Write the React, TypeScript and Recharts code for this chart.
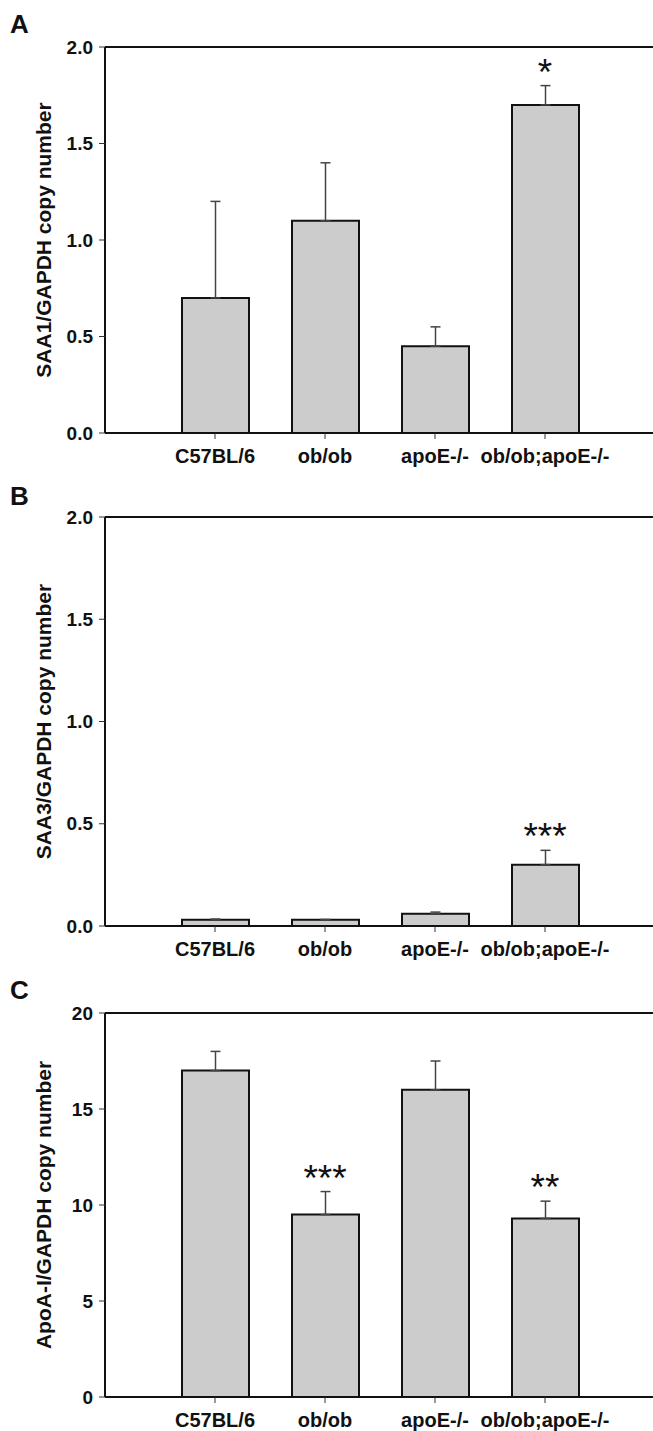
import {
  ComposedChart,
  Bar,
  Line,
  XAxis,
  YAxis,
  ErrorBar,
  LabelList,
  ReferenceLine,
} from "recharts";

// groups on the x axis, placed at slots 1..4 of a 0..5 axis
const categories = ["C57BL/6", "ob/ob", "apoE-/-", "ob/ob;apoE-/-"];
const slots = [1, 2, 3, 4];

// panel A: SAA1
const saa1Mean = [0.7, 1.1, 0.45, 1.7];
const saa1Err = [0.5, 0.3, 0.1, 0.1];
const saa1Sig = ["", "", "", "*"];

// panel B: SAA3
const saa3Mean = [0.03, 0.03, 0.06, 0.3];
const saa3Err = [0.004, 0.002, 0.008, 0.07];
const saa3Sig = ["", "", "", "***"];

// panel C: ApoA-I
const apoaMean = [17, 9.5, 16, 9.3];
const apoaErr = [1.0, 1.2, 1.5, 0.9];
const apoaSig = ["", "***", "", "**"];

const ticksSaa = [0, 0.5, 1.0, 1.5, 2.0];
const ticksApoa = [0, 5, 10, 15, 20];

const FONT = "'Liberation Sans', Arial, Helvetica, sans-serif";

const buildData = (mean: number[], err: number[], sig: string[]) =>
  categories.map((name, i) => ({
    name,
    pos: slots[i],
    mean: mean[i],
    errBar: [0, err[i]],
    top: mean[i] + err[i],
    sig: sig[i],
  }));

const StarLabel = (p: any) => {
  if (!p.value) return null;
  const x = p.x ?? p.viewBox?.x;
  const y = p.y ?? p.viewBox?.y;
  return (
    <text
      x={x}
      y={y - 1}
      textAnchor="middle"
      fontSize={37}
      fontFamily={FONT}
      fill="#111"
    >
      {p.value}
    </text>
  );
};

function Panel({
  top,
  height,
  plotTop,
  plotBottom,
  data,
  ticks,
  digits,
  ylabel,
}: any) {
  const yMax = ticks[ticks.length - 1];
  return (
    <div style={{ position: "absolute", left: 0, top, width: 660, height }}>
      <ComposedChart
        width={660}
        height={height}
        data={data}
        margin={{ top: plotTop, right: 5, bottom: 0, left: 0 }}
      >
        <XAxis
          type="number"
          dataKey="pos"
          domain={[0, 5]}
          ticks={slots}
          interval={0}
          allowDecimals={false}
          tickFormatter={(v: number) => categories[v - 1]}
          height={height - plotBottom}
          tickSize={6}
          tickMargin={10}
          axisLine={{ stroke: "#111", strokeWidth: 2 }}
          tickLine={{ stroke: "#333" }}
          tick={{
            fill: "#111",
            fontSize: 20,
            fontWeight: "bold",
            fontFamily: FONT,
          }}
        />
        <YAxis
          width={105}
          domain={[ticks[0], yMax]}
          ticks={ticks}
          interval={0}
          tickSize={6}
          tickMargin={6}
          tickFormatter={(v: number) => v.toFixed(digits)}
          axisLine={{ stroke: "#111", strokeWidth: 2 }}
          tickLine={{ stroke: "#333" }}
          tick={{
            fill: "#111",
            fontSize: 19,
            fontWeight: "bold",
            fontFamily: FONT,
          }}
          label={{
            content: (props: any) => {
              const vb = props.viewBox || {};
              const cx = (vb.x ?? 0) + 43;
              const cy = (vb.y ?? plotTop) + (vb.height ?? 0) / 2;
              return (
                <text
                  transform={`translate(${cx},${cy}) rotate(-90)`}
                  textAnchor="middle"
                  dominantBaseline="central"
                  fontSize={21}
                  fontWeight="bold"
                  fontFamily={FONT}
                  fill="#111"
                >
                  {ylabel}
                </text>
              );
            },
          }}
        />
        <ReferenceLine y={yMax} stroke="#111" strokeWidth={2} />
        <Bar
          dataKey="mean"
          fill="#cccccc"
          stroke="#111"
          strokeWidth={2}
          barSize={67}
          isAnimationActive={false}
        >
          <ErrorBar
            dataKey="errBar"
            direction="y"
            width={5}
            stroke="#444"
            strokeWidth={1.5}
          />
        </Bar>
        <Line
          dataKey="top"
          stroke="none"
          dot={false}
          activeDot={false}
          legendType="none"
          isAnimationActive={false}
        >
          <LabelList dataKey="sig" content={StarLabel} />
        </Line>
      </ComposedChart>
    </div>
  );
}

export default function App() {
  return (
    <div
      style={{
        position: "absolute",
        left: 0,
        top: 0,
        width: 653,
        height: 1431,
        overflow: "hidden",
        background: "#fff",
      }}
    >
      <Panel
        top={0}
        height={470}
        plotTop={47}
        plotBottom={433}
        data={buildData(saa1Mean, saa1Err, saa1Sig)}
        ticks={ticksSaa}
        digits={1}
        ylabel="SAA1/GAPDH copy number"
      />
      <Panel
        top={470}
        height={490}
        plotTop={47}
        plotBottom={456}
        data={buildData(saa3Mean, saa3Err, saa3Sig)}
        ticks={ticksSaa}
        digits={1}
        ylabel="SAA3/GAPDH copy number"
      />
      <Panel
        top={960}
        height={471}
        plotTop={53}
        plotBottom={437}
        data={buildData(apoaMean, apoaErr, apoaSig)}
        ticks={ticksApoa}
        digits={0}
        ylabel="ApoA-I/GAPDH copy number"
      />
      <svg
        width={653}
        height={1431}
        style={{ position: "absolute", left: 0, top: 0, pointerEvents: "none" }}
      >
        {["A", "B", "C"].map((t, i) => (
          <text
            key={t}
            x={10}
            y={[33, 505, 999][i]}
            fontSize={26}
            fontWeight="bold"
            fontFamily={FONT}
            fill="#111"
          >
            {t}
          </text>
        ))}
      </svg>
    </div>
  );
}
